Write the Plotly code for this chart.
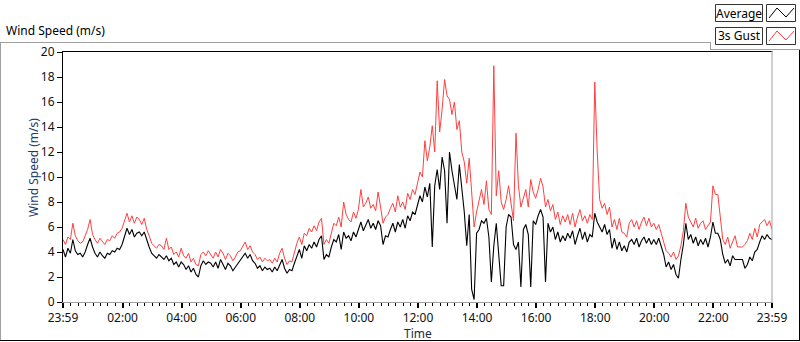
import plotly.graph_objects as go

# ---- data (5-minute samples, minutes since 23:59) ----
times = list(range(0, 1441, 5))

avg_speed = [
    4.2, 3.6, 4.3, 3.9, 5.0, 4.1, 3.8, 3.9, 3.6, 4.0, 4.6, 5.1,
    4.4, 3.9, 3.6, 4.0, 3.7, 3.5, 3.9, 3.8, 4.1, 4.0, 4.3, 4.2,
    4.6, 5.3, 5.9, 5.4, 5.8, 5.2, 5.5, 5.6, 5.3, 5.6, 4.9, 4.4,
    3.9, 3.7, 3.5, 3.8, 3.6, 3.4, 3.7, 3.3, 3.5, 3.0, 3.2, 2.8,
    3.2, 3.0, 2.6, 2.9, 2.4, 2.7, 2.2, 2.0, 2.9, 3.3, 3.0, 3.2,
    3.1, 2.8, 3.2, 2.7, 3.4, 3.0, 2.6, 3.1, 2.9, 2.5, 2.8, 3.0,
    3.4, 3.7, 3.9, 3.5, 3.8, 3.3, 3.1, 2.7, 2.9, 2.5, 2.8, 2.6,
    2.7, 2.4, 2.8, 2.5, 3.0, 3.4, 2.7, 2.3, 2.6, 2.5, 3.1, 3.6,
    4.2, 3.5, 4.5, 4.1, 4.6, 4.3, 4.8, 4.4, 5.0, 5.3, 3.4, 3.8,
    3.6, 4.4, 5.0, 4.8, 5.4, 4.2, 5.6, 5.1, 5.3, 4.9, 5.6, 5.2,
    5.9, 6.4, 5.7, 6.2, 6.6, 5.9, 6.3, 5.8, 6.5, 6.1, 4.6, 5.3,
    5.2, 5.8, 6.3, 5.6, 6.4, 6.0, 6.6, 5.9, 6.9, 6.5, 7.2, 7.0,
    7.8, 8.5, 8.0, 9.2, 8.4, 9.5, 4.4, 9.3, 10.6, 9.0, 11.6, 10.5,
    6.3, 12.0, 10.5, 9.5, 8.2, 11.0, 9.0, 7.2, 4.5, 7.0, 1.0, 0.2,
    5.5, 5.8, 6.5, 6.3, 6.7, 5.2, 1.6, 4.5, 6.3, 3.8, 1.3, 1.3,
    6.0, 7.0, 6.8, 4.6, 4.2, 4.8, 1.2, 5.8, 6.2, 5.4, 1.2, 6.5,
    6.2, 6.9, 7.4, 6.8, 1.6, 6.3, 5.6, 6.0, 5.0, 5.6, 4.8, 5.3,
    4.9, 5.5, 5.1, 5.7, 4.6, 5.3, 5.9, 5.0, 5.6, 4.8, 5.4, 5.2,
    7.1, 6.4, 6.0, 5.6, 6.2, 5.4, 5.8, 4.3, 5.1, 4.2, 4.8, 4.1,
    4.5, 4.0, 4.8, 5.0, 4.6, 5.1, 4.4, 4.9, 5.2, 4.7, 5.1, 4.6,
    5.0, 4.6, 5.1, 4.4, 3.8, 2.8, 3.2, 2.6, 3.0, 2.2, 1.9, 3.4,
    4.6, 6.3, 5.0, 5.4, 4.7, 5.2, 4.5, 5.0, 4.6, 5.1, 4.4, 5.2,
    6.4, 5.5, 5.5, 5.0, 3.8, 3.1, 3.4, 2.9, 3.7, 3.4, 3.4, 3.4,
    3.4, 2.7, 3.0, 3.6, 3.3, 4.0, 4.2, 4.8, 5.3, 5.0, 5.4, 5.1, 5.0,
]

gust_speed = [
    5.0, 4.6, 5.2, 5.0, 6.3, 5.3, 4.9, 4.7, 4.8, 5.3, 5.8, 6.6,
    5.4, 5.0, 4.7, 5.1, 4.8, 4.6, 5.0, 4.9, 5.3, 5.1, 5.5, 5.6,
    5.9, 6.6, 7.1, 6.4, 6.9, 6.3, 6.8, 6.6, 6.2, 6.7, 5.8, 5.3,
    4.7, 4.5, 4.3, 4.6, 4.5, 4.2, 5.1, 4.2, 4.4, 3.8, 4.0, 3.6,
    4.3, 3.7, 3.5, 3.9, 3.2, 3.5, 3.0, 2.9, 3.8, 4.0, 3.7, 4.1,
    3.8, 3.5, 4.0, 3.6, 4.2, 3.9, 3.4, 3.9, 3.7, 3.3, 3.6, 4.0,
    4.1, 4.4, 4.8, 4.2, 4.5, 4.0, 3.8, 3.4, 3.6, 3.2, 3.5, 3.3,
    3.4, 3.1, 3.5, 3.2, 3.9, 4.3, 3.5, 3.0, 3.3, 3.2, 4.0, 4.7,
    5.2, 4.6, 5.5, 5.3, 5.9, 5.6, 6.1, 5.7, 6.4, 6.7, 4.6, 5.0,
    4.7, 5.6, 6.3, 6.1, 6.8, 6.0, 8.0, 7.0, 6.6, 6.4, 7.2, 6.7,
    7.4, 9.0, 7.6, 7.9, 8.4, 7.5, 7.8, 7.3, 8.8, 7.6, 6.3, 6.8,
    7.0, 7.5, 7.9, 7.2, 8.5, 7.6, 8.0, 7.4, 8.7, 8.2, 9.0, 8.6,
    9.6, 10.4, 10.0, 12.9, 11.3, 12.4, 14.1, 12.0, 17.7, 13.6, 15.4, 17.8,
    16.5, 16.2, 15.0, 16.0, 13.8, 14.5, 12.0, 11.2, 9.5, 11.5, 8.8, 6.0,
    7.2, 8.0, 9.0, 7.8, 9.7, 7.4, 7.0, 18.9, 8.5, 10.5, 8.0, 7.4,
    8.2, 9.3, 8.0, 6.5, 13.5, 9.3, 7.6, 8.4, 9.0, 7.6, 9.8, 8.8,
    8.3, 9.0, 9.9, 9.2, 7.6, 8.2, 7.3, 7.8, 6.6, 7.2, 6.2, 6.9,
    6.4, 7.0, 6.2, 7.1, 6.0, 6.8, 7.4, 6.5, 6.9, 6.3, 7.0, 6.6,
    17.6, 12.0, 8.2, 7.5, 7.9, 7.0, 7.6, 6.0, 6.6, 5.8, 6.7, 5.6,
    5.5, 5.2, 6.3, 6.6, 6.0, 6.5, 5.8, 6.4, 6.8, 6.1, 6.7, 6.0,
    6.3, 5.8, 6.2, 5.5, 4.8, 4.1, 3.9, 3.6, 4.0, 3.4, 3.7, 4.5,
    5.7, 7.9, 6.8, 6.4, 6.0, 6.7, 5.9, 6.3, 6.5, 5.8, 6.1, 6.4,
    9.3, 8.6, 8.6, 6.6, 5.0, 4.6, 5.2, 4.3, 4.8, 5.3, 4.4, 4.4,
    4.4, 4.6, 4.9, 5.5, 5.0, 5.9, 5.2, 6.2, 6.4, 6.6, 6.1, 6.5, 5.8,
]

tick_minutes = [0, 121, 241, 361, 481, 601, 721, 841, 961, 1081, 1201, 1321, 1440]
tick_labels = ["23:59", "02:00", "04:00", "06:00", "08:00", "10:00", "12:00",
               "14:00", "16:00", "18:00", "20:00", "22:00", "23:59"]
y_ticks = list(range(0, 21, 2))

# ---- geometry helpers (pixel -> paper) ----
W, H = 800, 342
L, R, T, B = 63, 28, 52, 40
PW, PH = W - L - R, H - T - B


def fx(px):
    return (px - L) / PW


def fy(py):
    return (H - B - py) / PH


FONT = "Noto Sans, Open Sans, sans-serif"
GRAY = "#a0a0a0"

fig = go.Figure()
fig.add_trace(go.Scatter(x=times, y=gust_speed, name="3s Gust", mode="lines",
                         line=dict(color="#ff4040", width=1), showlegend=False))
fig.add_trace(go.Scatter(x=times, y=avg_speed, name="Average", mode="lines",
                         line=dict(color="#000000", width=1.1), showlegend=False))


def hline(x0, x1, y, color, w=1):
    return dict(type="line", xref="paper", yref="paper", x0=fx(x0), x1=fx(x1),
                y0=fy(y), y1=fy(y), line=dict(color=color, width=w), layer="above")


def vline(x, y0, y1, color, w=1):
    return dict(type="line", xref="paper", yref="paper", x0=fx(x), x1=fx(x),
                y0=fy(y0), y1=fy(y1), line=dict(color=color, width=w), layer="above")


def rect(x0, y0, x1, y1, color):
    return dict(type="rect", xref="paper", yref="paper", x0=fx(x0), x1=fx(x1),
                y0=fy(y0), y1=fy(y1), line=dict(color=color, width=1),
                fillcolor="white", layer="above")


def zigzag(pts, color):
    p = "M " + " L ".join(f"{fx(a):.5f},{fy(b):.5f}" for a, b in pts)
    return dict(type="path", xref="paper", yref="paper", path=p,
                line=dict(color=color, width=1), layer="above")


shapes = [
    # outer panel
    hline(0, 710.5, 42.5, GRAY),
    vline(0.5, 42, 341, GRAY),
    hline(0, 800, 340.5, "#000000"),
    vline(799.5, 50, 341, "#000000"),
    vline(710.5, 42, 50, GRAY),
    hline(710, 800, 49.5, GRAY),
    # plot frame
    hline(62, 772.5, 51.5, "#000000"),
    vline(62.5, 51, 303, "#000000"),
    hline(62, 772.5, 302.5, GRAY),
    vline(772, 51, 303, GRAY),
    # legend boxes
    rect(715.5, 4.5, 762.5, 21.5, "#333333"),
    rect(766.5, 4.5, 795.5, 21.5, "#333333"),
    rect(715.5, 27.5, 762.5, 44.5, "#333333"),
    rect(766.5, 27.5, 795.5, 44.5, "#333333"),
    zigzag([(769, 18), (777, 8), (786, 17), (794, 8)], "#000000"),
    zigzag([(769, 41), (777, 31), (786, 40), (794, 31)], "#ff4040"),
]

annotations = [
    dict(text="Wind Speed (m/s)", x=fx(4), y=fy(31), xref="paper", yref="paper",
         xanchor="left", yanchor="middle", showarrow=False,
         font=dict(family=FONT, size=12, color="#000000")),
    dict(text="Wind Speed (m/s)", x=fx(33), y=fy(168), xref="paper", yref="paper",
         xanchor="center", yanchor="middle", showarrow=False, textangle=-90,
         font=dict(family=FONT, size=12, color="#1a3a6e")),
    dict(text="Time", x=fx(418), y=fy(333), xref="paper", yref="paper",
         xanchor="center", yanchor="middle", showarrow=False,
         font=dict(family=FONT, size=12, color="#1a2a44")),
    dict(text="Average", x=fx(739), y=fy(13), xref="paper", yref="paper",
         xanchor="center", yanchor="middle", showarrow=False,
         font=dict(family=FONT, size=12, color="#000000")),
    dict(text="3s Gust", x=fx(739), y=fy(36), xref="paper", yref="paper",
         xanchor="center", yanchor="middle", showarrow=False,
         font=dict(family=FONT, size=12, color="#000000")),
]

fig.update_layout(
    width=W, height=H,
    margin=dict(l=L, r=R, t=T, b=B, autoexpand=False),
    paper_bgcolor="white", plot_bgcolor="white",
    font=dict(family=FONT, size=12, color="#111111"),
    shapes=shapes, annotations=annotations,
    xaxis=dict(range=[0, 1440], tickmode="array", tickvals=tick_minutes,
               ticktext=tick_labels, ticks="outside", ticklen=5, tickwidth=2,
               tickcolor="#000000", showgrid=False, zeroline=False, showline=False,
               tickfont=dict(size=12, color="#111111"),
               minor=dict(tick0=1, dtick=15, ticks="outside", ticklen=3,
                          tickwidth=1, tickcolor="#000000", showgrid=False)),
    yaxis=dict(range=[0, 20], tickmode="array", tickvals=y_ticks,
               ticks="outside", ticklen=5, tickwidth=1, tickcolor="#000000",
               showgrid=False, zeroline=False, showline=False,
               tickfont=dict(size=12, color="#111111")),
)

fig.write_html("out.html", config={"displayModeBar": False},
               post_script="document.body.style.margin='0';document.body.style.overflow='hidden';")
